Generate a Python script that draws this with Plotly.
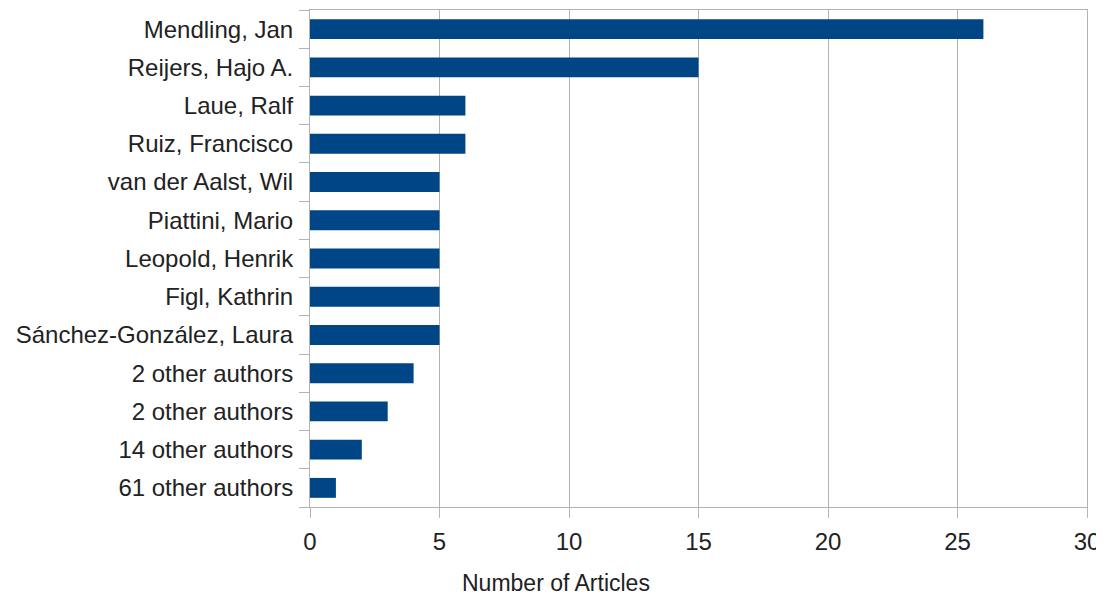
import plotly.graph_objects as go

authors = [
    "Mendling, Jan",
    "Reijers, Hajo A.",
    "Laue, Ralf",
    "Ruiz, Francisco",
    "van der Aalst, Wil",
    "Piattini, Mario",
    "Leopold, Henrik",
    "Figl, Kathrin",
    "Sánchez-González, Laura",
    "2 other authors",
    "2 other authors",
    "14 other authors",
    "61 other authors",
]
articles = [26, 15, 6, 6, 5, 5, 5, 5, 5, 4, 3, 2, 1]
x_ticks = [0, 5, 10, 15, 20, 25, 30]
x_title = "Number of Articles"

positions = list(range(len(authors)))
boundaries = [p - 0.5 for p in positions] + [positions[-1] + 0.5]

GRID = "#b3b3b3"
FONT = "Liberation Sans, Arial, sans-serif"
TXT = "#222222"

fig = go.Figure(
    go.Bar(
        x=articles,
        y=positions,
        orientation="h",
        width=0.52,
        marker=dict(color="#004586", line=dict(width=0)),
        hovertext=authors,
    )
)

# the page body adds an 8px margin, so the figure is 8px smaller on each axis
fig.update_layout(
    width=1096,
    height=589,
    margin=dict(l=302, r=17, t=2, b=90, autoexpand=False),
    paper_bgcolor="white",
    plot_bgcolor="white",
    showlegend=False,
    font=dict(family=FONT, size=24, color=TXT),
)

fig.add_annotation(
    text=x_title,
    xref="paper",
    yref="paper",
    x=0.3166,
    y=-0.153,
    xanchor="center",
    yanchor="middle",
    showarrow=False,
    font=dict(size=23, color=TXT),
)

fig.update_xaxes(
    range=[0, 30],
    automargin=False,
    tickmode="array",
    tickvals=x_ticks,
    ticktext=[str(v) for v in x_ticks],
    ticks="outside",
    ticklen=10,
    tickcolor=GRID,
    tickwidth=1,
    ticklabelstandoff=3,
    showgrid=True,
    gridcolor=GRID,
    gridwidth=1,
    zeroline=False,
    showline=True,
    linecolor=GRID,
    linewidth=1,
    mirror=True,
    tickfont=dict(size=24, color=TXT),
)

fig.update_yaxes(
    range=[len(authors) - 0.5, -0.5],
    automargin=False,
    tickmode="array",
    tickvals=positions,
    ticktext=authors,
    ticks="outside",
    ticklen=11,
    tickcolor="rgba(0,0,0,0)",
    showgrid=False,
    zeroline=False,
    showline=True,
    linecolor=GRID,
    linewidth=1,
    mirror=True,
    tickfont=dict(size=24, color=TXT),
    minor=dict(
        tickmode="array",
        tickvals=boundaries,
        ticks="outside",
        ticklen=10,
        tickcolor=GRID,
        tickwidth=1,
        showgrid=False,
    ),
)

fig.write_html("out.html")
